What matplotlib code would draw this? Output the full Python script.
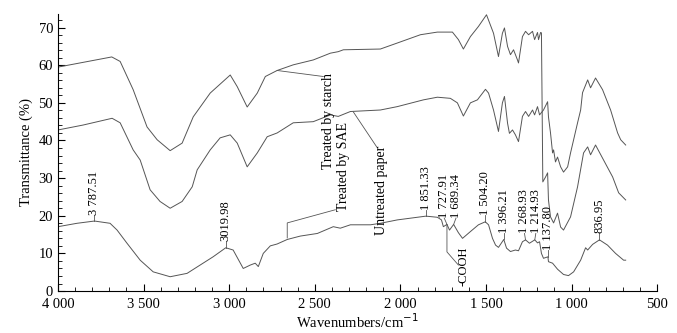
import numpy as np
import matplotlib.pyplot as plt
from matplotlib.ticker import MultipleLocator, FixedLocator

plt.rcParams['font.family'] = ['Liberation Serif', 'DejaVu Serif']
plt.rcParams['font.size'] = 10

# 전분 처리 종이
starch_x = [4000, 3686, 3637, 3561, 3480, 3421, 3345, 3275, 3210, 3111, 2994, 2953,
            2895, 2836, 2789, 2720, 2626, 2509, 2409, 2363, 2333, 2117, 2018, 1883,
            1784, 1696, 1661, 1632, 1591, 1544, 1497, 1456, 1427, 1404, 1392, 1374,
            1357, 1339, 1316, 1310, 1287, 1269, 1251, 1228, 1216, 1199, 1193, 1181,
            1176, 1168, 1152, 1140, 1135, 1123, 1105, 1082, 1064, 1047, 1006, 965,
            930, 906, 889, 860, 813, 760, 725, 684]
starch_y = [59.5, 62.2, 61.0, 53.5, 43.6, 40.2, 37.3, 39.3, 46.3, 52.6, 57.4, 54.3,
            48.9, 52.6, 57.0, 58.6, 60.1, 61.4, 63.2, 63.6, 64.1, 64.3, 65.9, 68.1,
            68.8, 68.8, 66.8, 64.3, 67.6, 70.3, 73.4, 68.5, 62.3, 68.5, 69.9, 65.0,
            62.8, 64.1, 61.4, 60.6, 67.6, 69.0, 68.1, 69.0, 66.8, 68.7, 66.8, 68.7,
            68.6, 29.0, 30.3, 31.4, 24.2, 19.7, 18.1, 20.7, 17.0, 16.2, 19.7, 27.7,
            36.7, 38.3, 36.2, 38.8, 34.8, 30.3, 26.1, 24.2]

# 미처리 종이
untreated_x = [4000, 3854, 3684, 3637, 3561, 3520, 3462, 3404, 3345, 3275, 3216, 3187,
               3111, 3053, 2994, 2953, 2895, 2836, 2778, 2720, 2626, 2509, 2409, 2363,
               2292, 2117, 2018, 1865, 1784, 1708, 1667, 1632, 1591, 1550, 1503, 1485,
               1456, 1427, 1404, 1392, 1374, 1363, 1345, 1328, 1310, 1287, 1269, 1251,
               1228, 1216, 1199, 1187, 1164, 1140, 1135, 1123, 1111, 1105, 1094, 1082,
               1064, 1047, 1023, 1006, 988, 965, 947, 936, 906, 889, 860, 819,
               772, 731, 713, 684]
untreated_y = [42.8, 44.1, 45.9, 44.7, 37.5, 34.8, 26.9, 23.8, 22.0, 23.8, 27.7, 32.2,
               37.5, 40.7, 41.5, 39.3, 33.0, 36.7, 41.0, 42.0, 44.7, 45.0, 46.8, 46.4,
               47.7, 48.1, 49.0, 50.8, 51.5, 51.2, 50.0, 46.5, 50.0, 50.8, 53.6, 52.6,
               48.1, 42.4, 50.0, 51.7, 44.6, 41.9, 42.8, 41.5, 39.7, 46.4, 47.7, 46.4,
               48.1, 46.8, 49.0, 46.8, 48.1, 50.3, 46.3, 42.0, 36.7, 37.5, 34.3, 35.6,
               33.0, 31.6, 33.0, 36.7, 40.2, 44.7, 48.1, 52.7, 56.1, 54.0, 56.6, 53.5,
               48.1, 42.0, 40.2, 38.8]

# SAE 처리 종이
sae_x = [4000, 3889, 3787, 3696, 3655, 3597, 3520, 3444, 3345, 3246, 3170, 3094,
         3020, 2977, 2918, 2877, 2848, 2830, 2801, 2760, 2720, 2661, 2585, 2485,
         2392, 2351, 2292, 2175, 2117, 2018, 1851, 1784, 1760, 1749, 1728, 1713,
         1689, 1661, 1637, 1591, 1544, 1504, 1485, 1462, 1444, 1427, 1396, 1380,
         1357, 1328, 1310, 1287, 1269, 1246, 1215, 1199, 1187, 1176, 1164, 1138,
         1135, 1111, 1082, 1047, 1018, 988, 947, 918, 906, 877, 837, 790,
         743, 696, 684]
sae_y = [17.1, 18.0, 18.6, 18.0, 16.2, 12.7, 8.2, 5.1, 3.8, 4.7, 6.9, 9.1,
         11.5, 10.9, 6.0, 6.9, 7.4, 6.5, 10.0, 12.0, 12.5, 13.7, 14.6, 15.3,
         17.1, 16.7, 17.6, 17.6, 18.0, 18.9, 19.9, 19.6, 18.9, 17.1, 17.7, 16.2,
         17.7, 15.5, 14.0, 15.8, 17.6, 18.4, 17.6, 14.0, 12.2, 11.6, 13.7, 11.4,
         10.5, 10.9, 10.7, 13.1, 13.6, 12.7, 13.6, 12.8, 13.1, 10.0, 8.7, 9.1,
         7.8, 7.4, 5.8, 4.4, 4.1, 5.1, 8.2, 11.5, 10.9, 12.4, 13.6, 12.2,
         10.0, 8.2, 8.2]

# 피크 표시
peak_labels = ['3 787.51', '3019.98', '1 851.33', '1 727.91', '1 689.34', '1 504.20',
               '1 396.21', '1 268.93', '1 214.93', '1 137.80', '836.95']
peak_x = [3787, 3020, 1851, 1728, 1689, 1504, 1396, 1269, 1215, 1138, 837]
peak_y = [18.6, 11.5, 19.9, 17.7, 17.7, 18.4, 13.7, 13.6, 13.6, 9.1, 13.6]
# 글자 위치만 살짝 옆으로
label_shift = [0, 0, 0, 16, -14, 0, 0, 6, -6, 0, 0]

x_ticks = [4000, 3500, 3000, 2500, 2000, 1500, 1000, 500]
x_tick_labels = ['4 000', '3 500', '3 000', '2 500', '2 000', '1 500', '1 000', '500']

lc = '#555555'
lw = 0.7

fig = plt.figure(figsize=(6.77, 3.33), dpi=100)
ax = fig.add_axes([0.0857, 0.126, 0.885, 0.833])

ax.plot(starch_x, starch_y, color=lc, lw=lw)
ax.plot(untreated_x, untreated_y, color=lc, lw=lw)
ax.plot(sae_x, sae_y, color=lc, lw=lw)

for lab, px, py, sh in zip(peak_labels, peak_x, peak_y, label_shift):
    ax.plot([px, px + sh], [py, py + 1.7], color=lc, lw=0.6)
    ax.text(px + sh, py + 1.7, lab, rotation=90, ha='center', va='bottom', fontsize=9)

# COOH 표시
ax.plot([1728, 1728, 1661], [17.7, 10.4, 6.9], color=lc, lw=0.6)
ax.text(1632, 1.4, '-COOH', rotation=90, ha='center', va='bottom', fontsize=9)

# 곡선 이름
ax.plot([2720, 2450], [58.6, 57.0], color=lc, lw=0.6)
ax.text(2420, 57.8, 'Treated by starch', rotation=90, ha='center', va='top', fontsize=10)
ax.plot([2661, 2661, 2380], [14.1, 18.1, 21.6], color=lc, lw=0.6)
ax.text(2335, 21.3, 'Treated by SAE', rotation=90, ha='center', va='bottom', fontsize=10)
ax.plot([2275, 2134], [47.6, 38.0], color=lc, lw=0.6)
ax.text(2108, 38.6, 'Untreated paper', rotation=90, ha='center', va='top', fontsize=10)

ax.set_xlim(4000, 500)
ax.set_ylim(0, 73.7)
ax.xaxis.set_major_locator(FixedLocator(x_ticks))
ax.set_xticklabels(x_tick_labels)
ax.xaxis.set_minor_locator(MultipleLocator(100))
ax.yaxis.set_major_locator(MultipleLocator(10))
ax.yaxis.set_minor_locator(MultipleLocator(2))
ax.tick_params(which='both', direction='in', labelsize=10.5)
ax.tick_params(which='major', length=5)
ax.tick_params(which='minor', length=3)
ax.tick_params(axis='x', pad=5)
ax.spines['top'].set_visible(False)
ax.spines['right'].set_visible(False)

ax.set_xlabel('Wavenumbers/cm$^{-1}$', fontsize=10.5, labelpad=1)
ax.set_ylabel('Transmittance (%)', fontsize=10.5)

plt.savefig('out.png', dpi=100)
